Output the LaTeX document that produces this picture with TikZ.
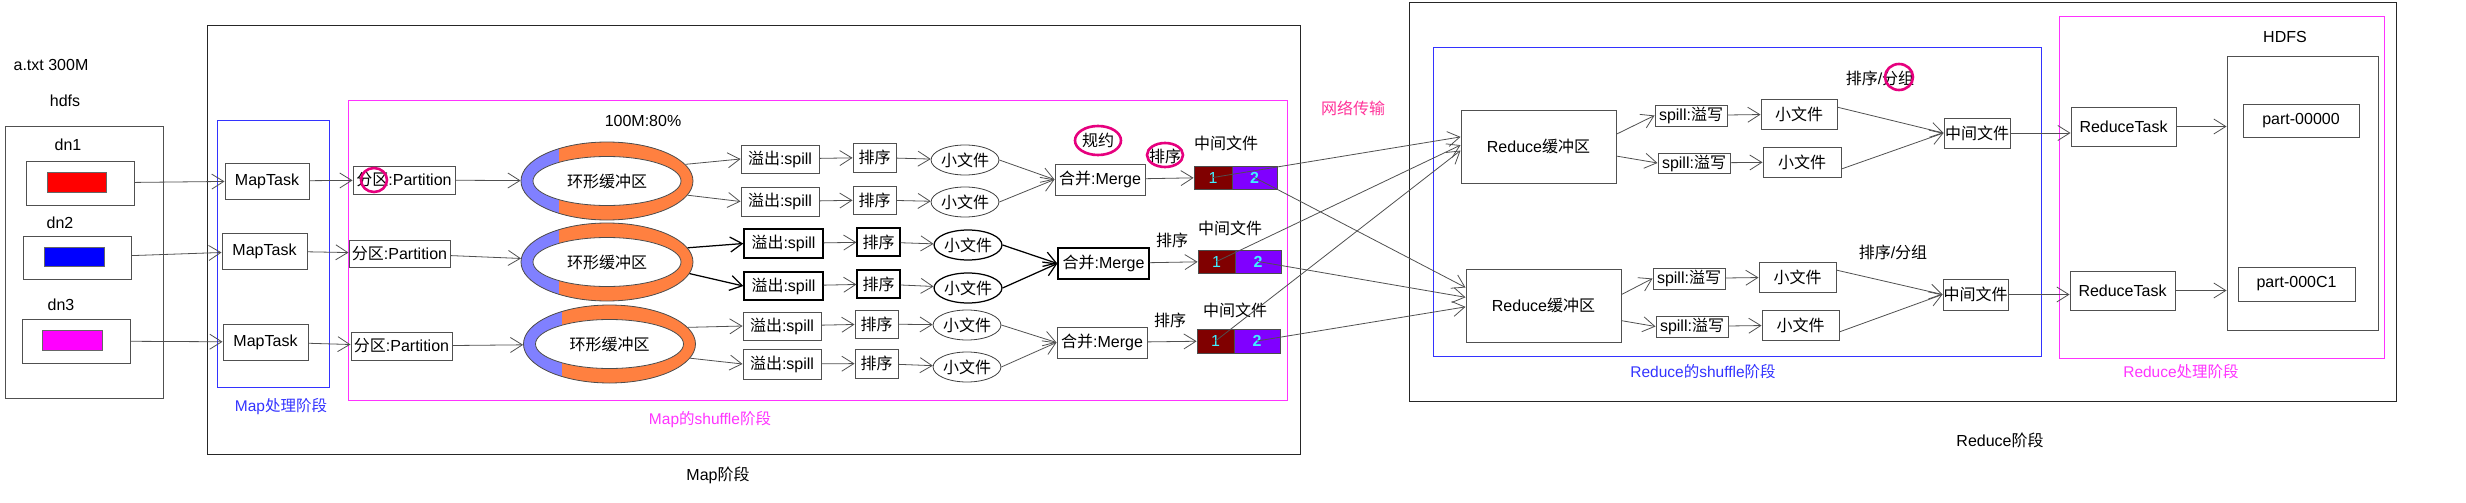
\documentclass[tikz,border=0pt]{standalone}
\usepackage{fontspec}
\setmainfont{Liberation Sans}
\newfontfamily\cjk{Noto Sans CJK SC}
\newcommand{\zh}[1]{{\cjk #1}}
\usetikzlibrary{arrows.meta,shapes.geometric}

\definecolor{ringorange}{HTML}{FF8040}
\definecolor{ringblue}{HTML}{8080FF}
\definecolor{stageblue}{HTML}{3333FF}
\definecolor{stagepink}{HTML}{FF33FF}
\definecolor{markpink}{HTML}{E6007E}
\definecolor{netpink}{HTML}{FF3399}
\definecolor{filered}{HTML}{800000}
\definecolor{filepurple}{HTML}{8000FF}
\definecolor{digitcyan}{HTML}{40F0FF}
\definecolor{edge}{HTML}{505050}
\definecolor{blkred}{HTML}{FF0000}
\definecolor{blkblue}{HTML}{0000FF}
\definecolor{blkpink}{HTML}{FF00FF}

\begin{document}
\begin{tikzpicture}[x=1pt, y=-1pt, >={Straight Barb[length=12pt,width=15pt]},
    font=\fontsize{16}{18}\selectfont, line width=0.8pt, draw=edge,
    taskbox/.style={draw=edge, rectangle, inner sep=0pt, line width=1pt},
    stagebox/.style={draw=black!85, rectangle, inner sep=0pt, line width=1pt},
    block/.style={draw=black!60, rectangle, inner sep=0pt, line width=0.8pt},
    smallfile/.style={draw=black!75, ellipse, inner sep=0pt, line width=0.8pt,
      minimum width=64pt, minimum height=30pt},
    heavy/.style={line width=1.25pt, draw=black},
    cell/.style={rectangle, inner sep=0pt, text=digitcyan, draw=black!70, line width=0.8pt},
    markring/.style={ellipse, draw=markpink, line width=2.6pt, inner sep=0pt},
    stagelabel/.style={font=\fontsize{15.5}{18}\selectfont},
    ringbuf/.style={ellipse, draw=black!70, fill=ringorange, inner sep=0pt,
      minimum width=172pt, minimum height=78pt,
      path picture={
        \fill[ringblue] ([xshift=-48pt,yshift=-50pt]path picture bounding box.center)
          rectangle ([xshift=-100pt,yshift=50pt]path picture bounding box.center);
        \filldraw[fill=white, draw=black!70] (path picture bounding box.center)
          ellipse [x radius=74pt, y radius=24.5pt];
      }}]
    \useasboundingbox (0,0) rectangle (2466,503);

    % Input file on hdfs
    \node (atxt) at (51,65) {a.txt 300M};
    \node (hdfslbl) at (65,101) {hdfs};
    \node[taskbox, minimum width=158pt, minimum height=272pt] (hdfs) at (84,262) {};
    \node (dn1lbl) at (68,145) {dn1};
    \node[taskbox, minimum width=108pt, minimum height=44pt] (dn1) at (80,183) {};
    \node[block, fill=blkred, minimum width=59pt, minimum height=20pt] (blk1) at (76.5,182) {};
    \node (dn2lbl) at (60,223) {dn2};
    \node[taskbox, minimum width=108pt, minimum height=43pt] (dn2) at (77,257.5) {};
    \node[block, fill=blkblue, minimum width=60pt, minimum height=19pt] (blk2) at (74,256.5) {};
    \node (dn3lbl) at (61,305) {dn3};
    \node[taskbox, minimum width=108pt, minimum height=44pt] (dn3) at (76,341) {};
    \node[block, fill=blkpink, minimum width=60pt, minimum height=20pt] (blk3) at (72,340) {};

    % Map stage frames
    \node[stagebox, minimum width=1093pt, minimum height=428pt] (mapstage) at (753.5,240) {};
    \node (maplbl) at (718,475) {Map\zh{阶段}};
    \node[stagebox, draw=stageblue, minimum width=112pt, minimum height=267pt] (mapproc) at (273,253.5) {};
    \node[stagelabel, text=stageblue] (mapproclbl) at (281,407) {Map\zh{处理阶段}};
    \node[stagebox, draw=stagepink, minimum width=939pt, minimum height=300pt] (mapshuf) at (817.5,250) {};
    \node[stagelabel, text=stagepink] (mapshuflbl) at (710,420) {Map\zh{的}shuffle\zh{阶段}};

    % Map tasks and partitions
    \node[taskbox, minimum width=84pt, minimum height=36pt] (mt1) at (267,181) {MapTask};
    \node[taskbox, minimum width=85pt, minimum height=36pt] (mt2) at (264.5,251) {MapTask};
    \node[taskbox, minimum width=85pt, minimum height=36pt] (mt3) at (265.5,342) {MapTask};
    \node[taskbox, minimum width=102pt, minimum height=28pt] (pt1) at (404,180) {\zh{分区}:Partition};
    \node[taskbox, minimum width=101pt, minimum height=27pt] (pt2) at (399.5,253.5) {\zh{分区}:Partition};
    \node[taskbox, minimum width=101pt, minimum height=28pt] (pt3) at (401.5,346) {\zh{分区}:Partition};

    % Ring buffers
    \node (ringcap) at (643,121) {100M:80\%};
    \node[ringbuf] (ring1) at (607,181) {\zh{环形缓冲区}};
    \node[ringbuf] (ring2) at (607,262) {\zh{环形缓冲区}};
    \node[ringbuf] (ring3) at (609.5,344) {\zh{环形缓冲区}};

    % Spill, sort, small files
    \node[taskbox, minimum width=78pt, minimum height=28pt] (sp1) at (780,159) {\zh{溢出}:spill};
    \node[taskbox, minimum width=78pt, minimum height=29pt] (sp2) at (780,201.5) {\zh{溢出}:spill};
    \node[taskbox, heavy, minimum width=79pt, minimum height=29pt] (sp3) at (783.5,243.5) {\zh{溢出}:spill};
    \node[taskbox, heavy, minimum width=79pt, minimum height=28pt] (sp4) at (783.5,286) {\zh{溢出}:spill};
    \node[taskbox, minimum width=78pt, minimum height=28pt] (sp5) at (782,326) {\zh{溢出}:spill};
    \node[taskbox, minimum width=78pt, minimum height=30pt] (sp6) at (782,364) {\zh{溢出}:spill};

    \node[taskbox, minimum width=43pt, minimum height=29pt] (so1) at (874.5,157.5) {\zh{排序}};
    \node[taskbox, minimum width=43pt, minimum height=28pt] (so2) at (874.5,200) {\zh{排序}};
    \node[taskbox, heavy, minimum width=43pt, minimum height=28pt] (so3) at (878.5,242) {\zh{排序}};
    \node[taskbox, heavy, minimum width=43pt, minimum height=28pt] (so4) at (878.5,284) {\zh{排序}};
    \node[taskbox, minimum width=43pt, minimum height=28pt] (so5) at (876.5,324) {\zh{排序}};
    \node[taskbox, minimum width=43pt, minimum height=29pt] (so6) at (876.5,363.5) {\zh{排序}};

    \node[smallfile] (sf1) at (965,160) {\zh{小文件}};
    \node[smallfile] (sf2) at (965,202) {\zh{小文件}};
    \node[smallfile, heavy] (sf3) at (968,245) {\zh{小文件}};
    \node[smallfile, heavy] (sf4) at (968,288) {\zh{小文件}};
    \node[smallfile] (sf5) at (967,325) {\zh{小文件}};
    \node[smallfile] (sf6) at (967,367) {\zh{小文件}};

    % Merge and intermediate files
    \node[taskbox, minimum width=90pt, minimum height=31pt] (mg1) at (1100,179.5) {\zh{合并}:Merge};
    \node[taskbox, heavy, minimum width=91pt, minimum height=31pt] (mg2) at (1103.5,263.5) {\zh{合并}:Merge};
    \node[taskbox, minimum width=90pt, minimum height=31pt] (mg3) at (1102,342.5) {\zh{合并}:Merge};

    \node (gylbl) at (1098,140) {\zh{规约}};
    \node (px1lbl) at (1165,156) {\zh{排序}};
    \node (px2lbl) at (1172,240) {\zh{排序}};
    \node (px3lbl) at (1170,320) {\zh{排序}};
    \node (mid1lbl) at (1226,143) {\zh{中间文件}};
    \node (mid2lbl) at (1230,228) {\zh{中间文件}};
    \node (mid3lbl) at (1235,310) {\zh{中间文件}};

    \node[cell, fill=filered, minimum width=38pt, minimum height=23pt] (c1a) at (1213,177.5) {1};
    \node[cell, fill=filepurple, minimum width=45pt, minimum height=23pt] (c1b) at (1254.5,177.5) {\bfseries 2};
    \node[cell, fill=filered, minimum width=37pt, minimum height=23pt] (c2a) at (1216.5,261.5) {1};
    \node[cell, fill=filepurple, minimum width=46pt, minimum height=23pt] (c2b) at (1258,261.5) {\bfseries 2};
    \node[cell, fill=filered, minimum width=37pt, minimum height=24pt] (c3a) at (1215.5,341) {1};
    \node[cell, fill=filepurple, minimum width=46pt, minimum height=24pt] (c3b) at (1257,341) {\bfseries 2};

    \node[text=netpink] (netlbl) at (1353,108) {\zh{网络传输}};

    % Reduce stage frames
    \node[stagebox, minimum width=987pt, minimum height=398pt] (redstage) at (1902.5,202) {};
    \node (redlbl) at (2000,440) {Reduce\zh{阶段}};
    \node[stagebox, draw=stageblue, minimum width=608pt, minimum height=308pt] (redshuf) at (1737,202) {};
    \node[stagelabel, text=stageblue] (redshuflbl) at (1703,372) {Reduce\zh{的}shuffle\zh{阶段}};
    \node[stagebox, draw=stagepink, minimum width=325pt, minimum height=341pt] (redproc) at (2221.5,187.5) {};
    \node[stagelabel, text=stagepink] (redproclbl) at (2181,372) {Reduce\zh{处理阶段}};

    % Reduce shuffle
    \node[taskbox, minimum width=155pt, minimum height=73pt] (rbuf1) at (1538.5,146.5) {Reduce\zh{缓冲区}};
    \node[taskbox, minimum width=155pt, minimum height=73pt] (rbuf2) at (1543.5,305.5) {Reduce\zh{缓冲区}};

    \node[taskbox, minimum width=72pt, minimum height=21pt] (ws1) at (1691,115.5) {spill:\zh{溢写}};
    \node[taskbox, minimum width=72pt, minimum height=20pt] (ws2) at (1694,163) {spill:\zh{溢写}};
    \node[taskbox, minimum width=72pt, minimum height=21pt] (ws3) at (1689,278.5) {spill:\zh{溢写}};
    \node[taskbox, minimum width=72pt, minimum height=21pt] (ws4) at (1692,326.5) {spill:\zh{溢写}};

    \node[taskbox, minimum width=76pt, minimum height=30pt] (rf1) at (1799,114) {\zh{小文件}};
    \node[taskbox, minimum width=78pt, minimum height=30pt] (rf2) at (1802,162) {\zh{小文件}};
    \node[taskbox, minimum width=77pt, minimum height=30pt] (rf3) at (1797.5,277) {\zh{小文件}};
    \node[taskbox, minimum width=77pt, minimum height=30pt] (rf4) at (1800.5,325) {\zh{小文件}};

    \node (sg1lbl) at (1880,78) {\zh{排序}/\zh{分组}};
    \node (sg2lbl) at (1893,252) {\zh{排序}/\zh{分组}};
    \node[taskbox, minimum width=66pt, minimum height=30pt] (rm1) at (1977,133) {\zh{中间文件}};
    \node[taskbox, minimum width=65pt, minimum height=31pt] (rm2) at (1975.5,294.5) {\zh{中间文件}};

    % Reduce tasks and output
    \node[taskbox, minimum width=105pt, minimum height=39pt] (rt1) at (2123.5,126.5) {ReduceTask};
    \node[taskbox, minimum width=105pt, minimum height=39pt] (rt2) at (2122.5,290.5) {ReduceTask};
    \node (hdlbl) at (2285,37) {HDFS};
    \node[taskbox, minimum width=151pt, minimum height=273pt] (hd) at (2302.5,193.5) {};
    \node[taskbox, minimum width=116pt, minimum height=33pt] (p0) at (2301,120.5) {part-00000};
    \node[taskbox, minimum width=117pt, minimum height=34pt] (p1) at (2296.5,284) {part-000C1};

    % Pink marks
    \node[markring, minimum width=26pt, minimum height=24pt] (mk1) at (374,180) {};
    \node[markring, minimum width=46pt, minimum height=29pt] (mk2) at (1098,140.5) {};
    \node[markring, minimum width=36pt, minimum height=24pt] (mk3) at (1165,155) {};
    \node[markring, minimum width=28pt, minimum height=26pt] (mk4) at (1899,77) {};

    % Map side connectors
    \draw[->] (dn1) -- (mt1);
    \draw[->] (dn2) -- (mt2);
    \draw[->] (dn3) -- (mt3);
    \draw[->] (mt1) -- (pt1);
    \draw[->] (mt2) -- (pt2);
    \draw[->] (mt3) -- (pt3);
    \draw[->] (pt1) -- (ring1);
    \draw[->] (pt2) -- (ring2);
    \draw[->] (pt3) -- (ring3);

    \draw[->] (ring1.12) -- (sp1.west);
    \draw[->] (ring1.-10) -- (sp2.west);
    \draw[->, heavy] (ring2.10) -- (sp3.west);
    \draw[->, heavy] (ring2.-8) -- (sp4.west);
    \draw[->] (ring3.12) -- (sp5.west);
    \draw[->] (ring3.-10) -- (sp6.west);

    \draw[->] (sp1) -- (so1);
    \draw[->] (sp2) -- (so2);
    \draw[->] (sp3) -- (so3);
    \draw[->] (sp4) -- (so4);
    \draw[->] (sp5) -- (so5);
    \draw[->] (sp6) -- (so6);
    \draw[->] (so1) -- (sf1);
    \draw[->] (so2) -- (sf2);
    \draw[->] (so3) -- (sf3);
    \draw[->] (so4) -- (sf4);
    \draw[->] (so5) -- (sf5);
    \draw[->] (so6) -- (sf6);

    \draw[->] (sf1.east) -- (mg1.west);
    \draw[->] (sf2.east) -- (mg1.west);
    \draw[->, heavy] (sf3.east) -- (mg2.west);
    \draw[->, heavy] (sf4.east) -- (mg2.west);
    \draw[->] (sf5.east) -- (mg3.west);
    \draw[->] (sf6.east) -- (mg3.west);
    \draw[->] (mg1) -- (c1a);
    \draw[->] (mg2) -- (c2a);
    \draw[->] (mg3) -- (c3a);

    % Network transfer
    \draw[->] (c1a.center) -- (rbuf1.173);
    \draw[->] (c2a.center) -- (rbuf1.179);
    \draw[->] (c3a.center) -- (rbuf1.183);
    \draw[->] (c1b.center) -- (rbuf2.167);
    \draw[->] (c2b.center) -- (rbuf2.174);
    \draw[->] (c3b.center) -- (rbuf2.181);

    % Reduce side connectors
    \draw[->] (rbuf1.9) -- (ws1.west);
    \draw[->] (rbuf1.-7) -- (ws2.west);
    \draw[->] (rbuf2.8) -- (ws3.west);
    \draw[->] (rbuf2.-11) -- (ws4.west);
    \draw[->] (ws1) -- (rf1);
    \draw[->] (ws2) -- (rf2);
    \draw[->] (ws3) -- (rf3);
    \draw[->] (ws4) -- (rf4);
    \draw[->] (rf1.10) -- (rm1.west);
    \draw[->] (rf2.-10) -- (rm1.west);
    \draw[->] (rf3.10) -- (rm2.west);
    \draw[->] (rf4.-10) -- (rm2.west);
    \draw[->] (rm1.east) -- (rm1.east -| rt1.west);
    \draw[->] (rm2.east) -- (rm2.east -| rt2.west);
    \draw[->] (rt1.east) -- (rt1.east -| hd.west);
    \draw[->] (rt2.east) -- (rt2.east -| hd.west);
\end{tikzpicture}
\end{document}
